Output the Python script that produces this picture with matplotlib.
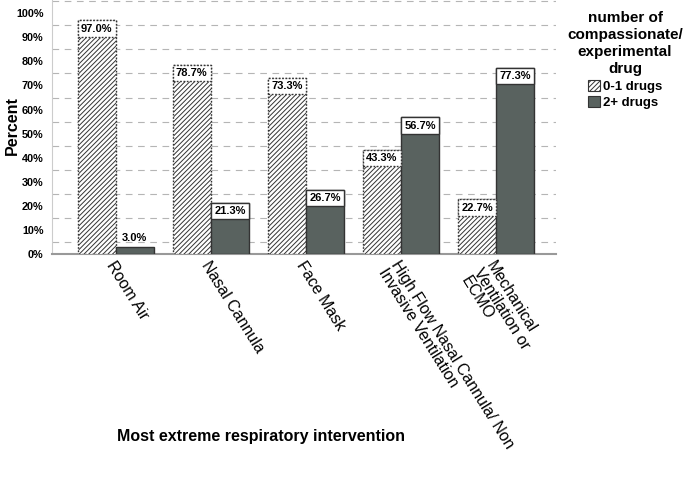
import numpy as np
import matplotlib
matplotlib.use("Agg")
import matplotlib.pyplot as plt
from matplotlib.patches import Patch

plt.rcParams['font.family'] = ['Liberation Sans', 'DejaVu Sans']
plt.rcParams['hatch.linewidth'] = 0.7

# data
categories = ['Room Air', 'Nasal Cannula', 'Face Mask',
              'High Flow Nasal Cannula/ Non\nInvasive Ventilation',
              'Mechanical\nVentilation or\nECMO']
series_names = ['0-1 drugs', '2+ drugs']
low_drugs = [97.0, 78.7, 73.3, 43.3, 22.7]
high_drugs = [3.0, 21.3, 26.7, 56.7, 77.3]
ytick_vals = [0, 10, 20, 30, 40, 50, 60, 70, 80, 90, 100]
grid_vals = [5, 15, 25, 35, 45, 55, 65, 75, 85, 95, 105]

dark = '#59625f'
edge = '#333333'
hatch = '///////'

fig = plt.figure(figsize=(6.85, 4.82), dpi=100)
ax = fig.add_axes([52/685, 1 - 254/482, 504/685, 254/482])

x = np.arange(len(categories))
w = 0.4
box_h = 6.8

ax.bar(x - w/2, low_drugs, w, color='white', edgecolor=edge, hatch=hatch,
       linestyle=(0, (1.2, 1.2)), linewidth=1, zorder=3)
ax.bar(x + w/2, high_drugs, w, color=dark, edgecolor=edge, linewidth=1, zorder=3)

# value label boxes
for xs, vals, ls in [(x - w/2, low_drugs, (0, (1.2, 1.2))), (x + w/2, high_drugs, '-')]:
    for xi, v in zip(xs, vals):
        if v > box_h + 1:
            ax.bar(xi, box_h, w, bottom=v - box_h, color='white', edgecolor=edge,
                   linestyle=ls, linewidth=1, zorder=4)
            ax.text(xi, v - box_h/2, f'{v:.1f}%', ha='center', va='center',
                    fontsize=8, fontweight='bold', zorder=5)
        else:
            ax.text(xi, v + 3.5, f'{v:.1f}%', ha='center', va='center',
                    fontsize=8, fontweight='bold', zorder=5)

ax.set_xlim(-0.67, 4.63)
ax.set_ylim(0, 105.5)
ax.set_yticks(ytick_vals)
ax.set_yticklabels([f'{v}%' for v in ytick_vals], fontsize=7.8, fontweight='bold')
ax.set_yticks(grid_vals, minor=True)
ax.grid(which='minor', axis='y', color='#b5b5b5', linestyle=(0, (6, 5)), linewidth=0.8, zorder=0)
ax.tick_params(axis='both', which='both', length=0)
ax.tick_params(axis='y', pad=6)

ax.set_xticks(x)
ax.set_xticklabels(categories, rotation=-58, ha='left', va='top',
                   rotation_mode='anchor', fontsize=11.5, linespacing=1.0)
ax.tick_params(axis='x', pad=3)

for s in ['top', 'right']:
    ax.spines[s].set_visible(False)
ax.spines['left'].set_color('#cccccc')
ax.spines['bottom'].set_color('#999999')
ax.spines['bottom'].set_linewidth(1.5)

fig.text(12/685, 1 - 126/482, 'Percent', rotation=90, ha='center', va='center',
         fontsize=11.5, fontweight='bold')
fig.text(261/685, 1 - 437/482, 'Most extreme respiratory intervention',
         ha='center', va='center', fontsize=11.5, fontweight='bold')

handles = [Patch(facecolor='white', edgecolor=edge, hatch=hatch, linewidth=0.8),
           Patch(facecolor=dark, edgecolor=edge, linewidth=0.8)]
leg = fig.legend(handles, series_names, loc='upper center',
                 bbox_to_anchor=(625/685, 1.0), frameon=False,
                 title='number of\ncompassionate/\nexperimental\ndrug',
                 prop={'size': 9.5, 'weight': 'bold'}, handlelength=0.9,
                 handleheight=0.9, handletextpad=0.2, labelspacing=0.25,
                 borderpad=0.3)
leg.get_title().set_fontsize(11)
leg.get_title().set_fontweight('bold')
leg.get_title().set_multialignment('center')
leg.get_title().set_linespacing(1.3)

fig.savefig('out.png', dpi=100)
